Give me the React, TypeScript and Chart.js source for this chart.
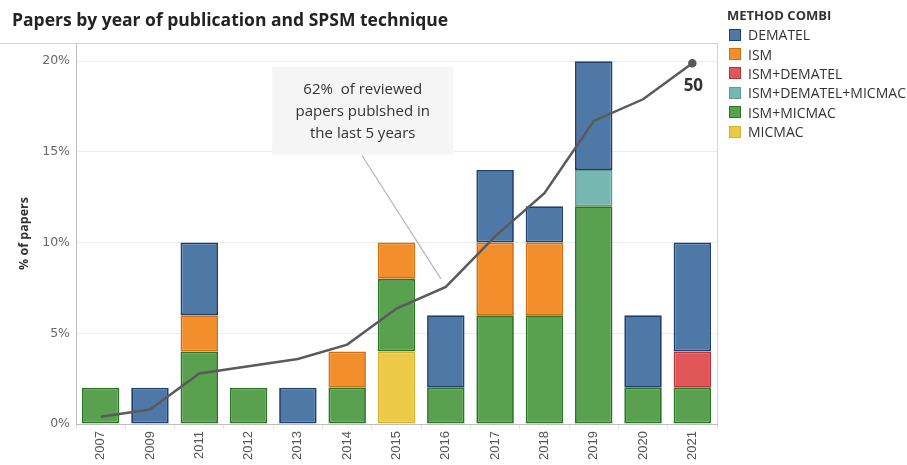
import React, { useEffect, useRef } from "react";
import { Chart, registerables } from "chart.js";

Chart.register(...registerables);

const years = ["2007", "2009", "2011", "2012", "2013", "2014", "2015", "2016", "2017", "2018", "2019", "2020", "2021"];
// % of papers per method per year
const dematel = [0, 2, 4, 0, 2, 0, 0, 4, 4, 2, 6, 4, 6];
const ism = [0, 0, 2, 0, 0, 2, 2, 0, 4, 4, 0, 0, 0];
const ismDematel = [0, 0, 0, 0, 0, 0, 0, 0, 0, 0, 0, 0, 2];
const ismDematelMicmac = [0, 0, 0, 0, 0, 0, 0, 0, 0, 0, 2, 0, 0];
const ismMicmac = [2, 0, 4, 2, 0, 2, 4, 2, 6, 6, 12, 2, 2];
const micmac = [0, 0, 0, 0, 0, 0, 4, 0, 0, 0, 0, 0, 0];
// cumulative number of papers
const cumulative = [1, 2, 7, 8, 9, 11, 16, 19, 26, 32, 42, 45, 50];
const yTicks = [0, 5, 10, 15, 20];

const legendItems = [
  { label: "DEMATEL", fill: "#4e79a7", border: "#1f3f6e" },
  { label: "ISM", fill: "#f28e2b", border: "#d26e12" },
  { label: "ISM+DEMATEL", fill: "#e15759", border: "#b8363a" },
  { label: "ISM+DEMATEL+MICMAC", fill: "#76b7b2", border: "#5a9d98" },
  { label: "ISM+MICMAC", fill: "#59a14f", border: "#2b7526" },
  { label: "MICMAC", fill: "#edc948", border: "#d7b032" },
];

const nz = (a: number[]) => a.map((v) => (v === 0 ? null : v));

const TEXT_FONT = "'Open Sans', 'Noto Sans', sans-serif";

const overlayPlugin = {
  id: "overlay",
  afterDatasetsDraw(chart: any) {
    const { ctx, chartArea, scales } = chart;
    const x = scales.x;
    const y = scales.y;
    const y2 = scales.y2;
    ctx.save();
    // frame lines (top and right)
    ctx.strokeStyle = "#d4d4d4";
    ctx.lineWidth = 1;
    ctx.beginPath();
    ctx.moveTo(0, chartArea.top + 0.5);
    ctx.lineTo(chartArea.right, chartArea.top + 0.5);
    ctx.moveTo(chartArea.right + 0.5, chartArea.top);
    ctx.lineTo(chartArea.right + 0.5, chartArea.bottom);
    ctx.stroke();

    // annotation pointer
    ctx.strokeStyle = "#b5b5b5";
    ctx.lineWidth = 1.2;
    ctx.beginPath();
    ctx.moveTo(x.getPixelForValue(5.3), y.getPixelForValue(14.8));
    ctx.lineTo(x.getPixelForValue(6.9), y.getPixelForValue(8));
    ctx.stroke();

    // annotation box
    const bx0 = x.getPixelForValue(3.48);
    const bx1 = x.getPixelForValue(7.15);
    const by0 = y.getPixelForValue(19.7);
    const by1 = y.getPixelForValue(14.85);
    ctx.fillStyle = "rgba(244,244,244,0.95)";
    ctx.fillRect(bx0, by0, bx1 - bx0, by1 - by0);
    const cx = (bx0 + bx1) / 2;
    ctx.fillStyle = "#333";
    ctx.font = `15px ${TEXT_FONT}`;
    ctx.textAlign = "center";
    ctx.textBaseline = "middle";
    const lines = ["62%  of reviewed", "papers publshed in", "the last 5 years"];
    lines.forEach((t, i) => {
      ctx.fillText(t, cx, by0 + 23 + i * 22);
    });

    // end label "50"
    const last = cumulative.length - 1;
    const px = x.getPixelForValue(last);
    const py = y2.getPixelForValue(cumulative[last]);
    ctx.font = `bold 17px ${TEXT_FONT}`;
    ctx.fillStyle = "#333";
    ctx.textAlign = "center";
    ctx.fillText(String(cumulative[last]), px + 1, py + 23);
    ctx.restore();
  },
};

export default function App() {
  const canvasRef = useRef<HTMLCanvasElement | null>(null);

  useEffect(() => {
    if (!canvasRef.current) return;
    const mk = (label: string, data: number[]) => {
      const it = legendItems.find((l) => l.label === label)!;
      return {
        type: "bar" as const,
        label,
        data: nz(data),
        backgroundColor: it.fill,
        borderColor: it.border,
        borderWidth: 1.8,
        borderSkipped: false,
        barPercentage: 0.76,
        categoryPercentage: 1,
        yAxisID: "y",
        order: 1,
      };
    };
    const chart = new Chart(canvasRef.current, {
      type: "bar",
      data: {
        labels: years,
        datasets: [
          {
            type: "line" as const,
            label: "Cumulative papers",
            data: cumulative,
            borderColor: "#5a5a5a",
            backgroundColor: "#5a5a5a",
            borderWidth: 2.5,
            pointRadius: (c: any) => (c.dataIndex === cumulative.length - 1 ? 3 : 0),
            pointHoverRadius: 0,
            tension: 0,
            yAxisID: "y2",
            order: 0,
          } as any,
          mk("MICMAC", micmac),
          mk("ISM+MICMAC", ismMicmac),
          mk("ISM+DEMATEL+MICMAC", ismDematelMicmac),
          mk("ISM+DEMATEL", ismDematel),
          mk("ISM", ism),
          mk("DEMATEL", dematel),
        ],
      },
      options: {
        animation: false,
        responsive: false,
        layout: { padding: { top: 43, right: 190, left: 0, bottom: 0 } },
        plugins: {
          legend: { display: false },
          tooltip: { enabled: false },
          title: { display: false },
        },
        scales: {
          x: {
            stacked: true,
            offset: true,
            grid: {
              display: true,
              drawOnChartArea: false,
              drawTicks: true,
              tickLength: 5,
              color: "#e2e2e2",
            },
            border: { display: true, color: "#bdbdbd" },
            ticks: {
              minRotation: 90,
              maxRotation: 90,
              color: "#555",
              padding: 2,
              font: { family: "'Liberation Sans', Arial, sans-serif", size: 13 },
            },
            afterFit: (s: any) => {
              s.height = 41;
            },
          },
          y: {
            stacked: true,
            min: 0,
            max: 21,
            afterBuildTicks: (s: any) => {
              s.ticks = yTicks.map((v) => ({ value: v }));
            },
            ticks: {
              callback: (v: any) => `${v}%`,
              color: "#666",
              padding: 6,
              font: { family: "'DejaVu Sans', Verdana, sans-serif", size: 12.5 },
            },
            grid: { color: "#ececec", drawTicks: false },
            border: { display: true, color: "#bdbdbd" },
            title: {
              display: true,
              text: "% of papers",
              color: "#333",
              padding: { top: 17, bottom: 4 },
              font: { family: TEXT_FONT, size: 12.5, weight: "bold" },
            },
            afterFit: (s: any) => {
              s.width = 76;
            },
          },
          y2: {
            display: false,
            min: 0,
            max: 52.8,
            stacked: false,
          },
        },
      } as any,
      plugins: [overlayPlugin],
    });
    return () => chart.destroy();
  }, []);

  return (
    <div
      style={{
        position: "fixed",
        left: 0,
        top: 0,
        width: 907,
        height: 465,
        background: "#fff",
        overflow: "hidden",
      }}
    >
      <canvas ref={canvasRef} width={907} height={465} style={{ position: "absolute", left: 0, top: 0 }} />
      <div
        style={{
          position: "absolute",
          left: 12,
          top: 7,
          fontFamily: TEXT_FONT,
          fontWeight: 700,
          fontSize: 17.5,
          color: "#222",
          whiteSpace: "nowrap",
        }}
      >
        Papers by year of publication and SPSM technique
      </div>
      <div
        style={{
          position: "absolute",
          left: 727,
          top: 6,
          fontFamily: TEXT_FONT,
          color: "#333",
        }}
      >
        <div style={{ fontWeight: 700, fontSize: 13, marginBottom: 1, lineHeight: "18px" }}>METHOD COMBI</div>
        {legendItems.map((it) => (
          <div key={it.label} style={{ display: "flex", alignItems: "center", height: 19.4, fontSize: 14 }}>
            <span
              style={{
                display: "inline-block",
                width: 10,
                height: 10,
                background: it.fill,
                border: `1px solid ${it.border}`,
                marginLeft: 2,
                marginRight: 7,
              }}
            />
            <span style={{ whiteSpace: "nowrap" }}>{it.label}</span>
          </div>
        ))}
      </div>
    </div>
  );
}
